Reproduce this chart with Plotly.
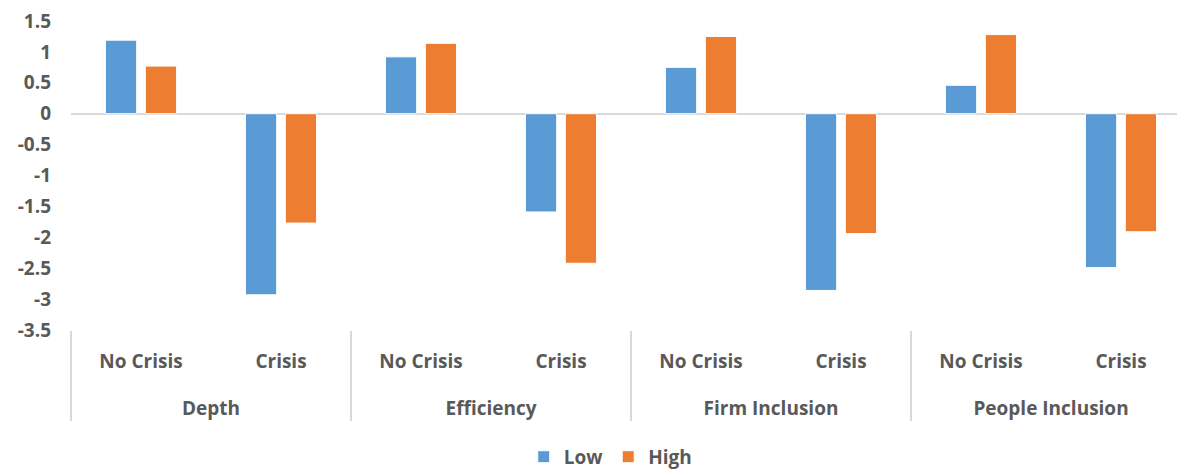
import plotly.graph_objects as go

groups = ["Depth", "Depth", "Efficiency", "Efficiency", "Firm Inclusion", "Firm Inclusion",
          "People Inclusion", "People Inclusion"]
scenarios = ["No Crisis", "Crisis"] * 4
low = [1.19, -2.93, 0.92, -1.59, 0.75, -2.86, 0.46, -2.49]
high = [0.77, -1.77, 1.14, -2.42, 1.25, -1.94, 1.28, -1.91]
y_ticks = [1.5, 1, 0.5, 0, -0.5, -1, -1.5, -2, -2.5, -3, -3.5]
y_labels = ["1.5", "1", "0.5", "0", "-0.5", "-1", "-1.5", "-2", "-2.5", "-3", "-3.5"]

font_family = "Open Sans, Liberation Sans, sans-serif"
gray = "#595959"

# outer labels one line lower; inner labels padded (invisible tall space) to space the rows like Excel
group_labels = ["<br>" + g for g in groups]
pad = "<span style='font-size:28px'>\u00a0</span>"
scenario_labels = [pad + s + pad for s in scenarios]

fig = go.Figure()
fig.add_trace(go.Bar(name="Low", x=[group_labels, scenario_labels], y=low,
                     marker=dict(color="#5B9BD5", line=dict(color="white", width=1))))
fig.add_trace(go.Bar(name="High", x=[group_labels, scenario_labels], y=high,
                     marker=dict(color="#ED7D31", line=dict(color="white", width=1))))

fig.update_layout(
    width=1177, height=471,
    margin=dict(l=71, r=0, t=21, b=141, autoexpand=False),
    paper_bgcolor="white", plot_bgcolor="white",
    barmode="group", bargap=0.43, bargroupgap=0.216,
    font=dict(family=font_family, size=16, color=gray),
    showlegend=True,
    legend=dict(orientation="h", x=0.488, xanchor="center",
                yref="container", y=0.03, yanchor="middle",
                font=dict(family=font_family, size=19, color=gray, weight="bold"),
                traceorder="normal"),
)
fig.update_xaxes(
    type="multicategory", range=[-0.5, 7.4], automargin=False,
    showline=False, showgrid=False, zeroline=False,
    showdividers=True, dividercolor="#D9D9D9", dividerwidth=1.5,
    tickfont=dict(family=font_family, size=19, color=gray, weight="bold"),
    ticks="", ticklabelstandoff=18,
)
fig.update_yaxes(
    range=[-3.5, 1.5], tickvals=y_ticks, ticktext=y_labels, automargin=False,
    showgrid=False, showline=False,
    zeroline=True, zerolinecolor="#D9D9D9", zerolinewidth=2,
    tickfont=dict(family=font_family, size=19, color=gray, weight="bold"),
    ticks="", ticklabelstandoff=19,
)
fig.write_html(
    "out.html",
    config={"displayModeBar": False},
    post_script="document.body.style.margin='0';document.body.style.overflow='hidden';",
)
